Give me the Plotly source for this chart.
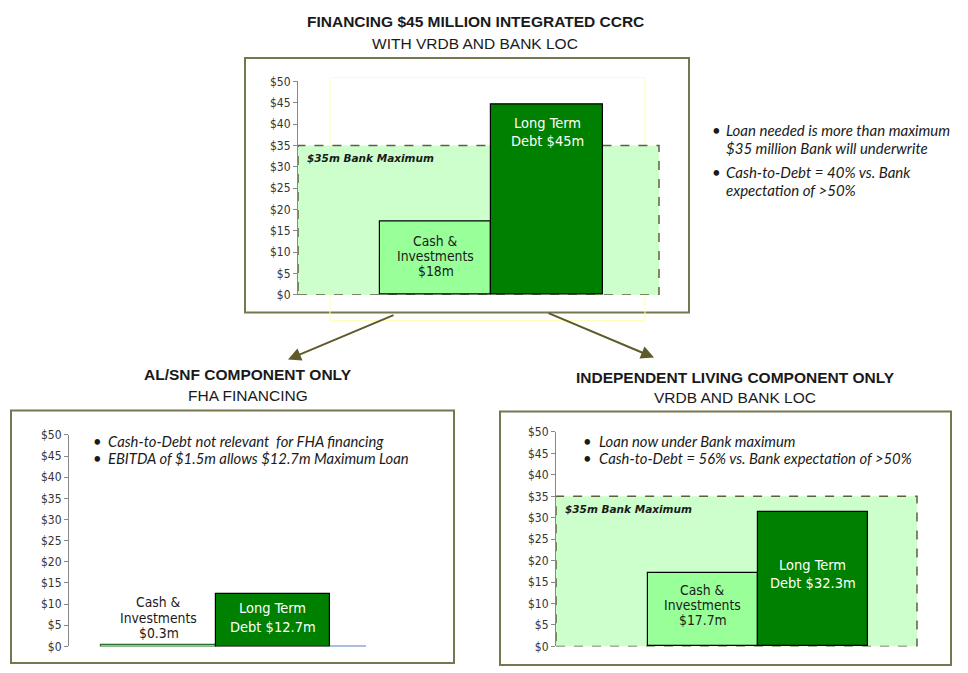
import plotly.graph_objects as go

# ---------------- data ----------------
categories = ["Cash & Investments", "Long Term Debt"]
ccrc_values = [17.2, 44.5]          # integrated CCRC ($m, as drawn)
alsnf_values = [0.3, 12.5]          # AL/SNF component ($m, as drawn)
il_values = [17.1, 31.3]            # IL component ($m, as drawn)
bank_maximum = 35
y_ticks = [0, 5, 10, 15, 20, 25, 30, 35, 40, 45, 50]
y_tick_text = ["$" + str(v) for v in y_ticks]

ccrc_labels = [["Cash &", "Investments", "$18m"], ["Long Term", "Debt $45m"]]
alsnf_labels = [["Cash &", "Investments", "$0.3m"], ["Long Term", "Debt $12.7m"]]
il_labels = [["Cash &", "Investments", "$17.7m"], ["Long Term", "Debt $32.3m"]]

bar_colors = ["#99ff99", "#008000"]
label_colors = ["#1a1a1a", "#ffffff"]

W = 968
H = 673
def px(x): return x / W
def py(y): return 1 - y / H

TICK_FONT = dict(family="DejaVu Sans Condensed, Liberation Sans, sans-serif", size=12, color="#333333")
BAR_FONT = "DejaVu Sans Condensed, Liberation Sans, sans-serif"
TITLE_FONT = "Liberation Sans, Arial, sans-serif"
NOTE_FONT = "Lato, Open Sans, sans-serif"
OLIVE = "#77774f"
DASH_COL = "#5f5f40"

fig = go.Figure()

panels = [
    ("x", "y", ccrc_values, ["#000000", "#000000"]),
    ("x2", "y2", alsnf_values, ["#2a6e2a", "#000000"]),
    ("x3", "y3", il_values, ["#000000", "#000000"]),
]
for xa, ya, vals, lc in panels:
    fig.add_trace(go.Bar(
        x=categories, y=vals, xaxis=xa, yaxis=ya, width=1,
        marker=dict(color=bar_colors, line=dict(color=lc, width=1.2)),
        hoverinfo="skip", showlegend=False,
    ))

yaxis_common = dict(range=[0, 50], tickmode="array", tickvals=y_ticks, ticktext=y_tick_text,
                    ticks="outside", ticklen=4, tickcolor="#888888", showline=True,
                    linecolor="#888888", linewidth=1, showgrid=False, zeroline=False,
                    tickfont=TICK_FONT, fixedrange=True)
xaxis_common = dict(visible=False, showgrid=False, zeroline=False, fixedrange=True)

fig.update_layout(
    width=W, height=H, margin=dict(l=0, r=0, t=0, b=0),
    paper_bgcolor="white", plot_bgcolor="rgba(0,0,0,0)", bargap=0,
    xaxis=dict(domain=[px(298), px(659)], range=[-1.233, 2.004], **xaxis_common),
    yaxis=dict(domain=[py(294), py(76)], anchor="x", **yaxis_common),
    xaxis2=dict(domain=[px(69), px(366)], range=[-0.785, 1.82], anchor="y2", **xaxis_common),
    yaxis2=dict(domain=[py(653), py(437)], anchor="x2", **yaxis_common),
    xaxis3=dict(domain=[px(556), px(917)], range=[-1.332, 1.95], anchor="y3", **xaxis_common),
    yaxis3=dict(domain=[py(653), py(434)], anchor="x3", **yaxis_common),
)

shapes = []
# outer frames
for (x0, y0, x1, y1) in [(245, 52, 689, 312), (11, 412, 454, 670), (500, 413, 951, 672)]:
    shapes.append(dict(type="rect", xref="paper", yref="paper", x0=px(x0), x1=px(x1),
                       y0=py(y1), y1=py(y0), line=dict(color=OLIVE, width=2), layer="below"))
# faint yellow frame in top panel
shapes.append(dict(type="rect", xref="paper", yref="paper", x0=px(330), x1=px(645),
                   y0=py(320), y1=py(72), line=dict(color="#ffffb0", width=1), layer="below"))
# bank maximum zones
for xa, ya in [("x", "y"), ("x3", "y3")]:
    shapes.append(dict(type="rect", xref=f"{xa} domain", yref=ya, x0=0, x1=1,
                       y0=0, y1=bank_maximum, fillcolor="#ccffcc",
                       line=dict(color=DASH_COL, width=1.5, dash="dash"), layer="below"))
# horizontal axis line remnant in AL/SNF panel
shapes.append(dict(type="line", xref="x2", yref="y2", x0=1.5, x1=1.82, y0=0, y1=0,
                   line=dict(color="#4f81bd", width=2)))
fig.update_layout(shapes=shapes)

ann = []
def text(x, y, s, size=14, bold=False, italic=False, color="#1a1a1a", family=TITLE_FONT,
         xanchor="center", yanchor="middle", align="center"):
    if bold:
        s = f"<b>{s}</b>"
    if italic:
        s = f"<i>{s}</i>"
    ann.append(dict(xref="paper", yref="paper", x=px(x), y=py(y), text=s, showarrow=False,
                    font=dict(family=family, size=size, color=color), borderpad=0,
                    xanchor=xanchor, yanchor=yanchor, align=align))

# titles
text(475, 15, "FINANCING $45 MILLION INTEGRATED CCRC", size=15.5, bold=True)
text(475, 37, "WITH VRDB AND BANK LOC", size=15.5)
text(248, 375, "AL/SNF COMPONENT ONLY", size=15.5, bold=True)
text(248, 397, "FHA FINANCING", size=15.5)
text(735, 378, "INDEPENDENT LIVING COMPONENT ONLY", size=15.5, bold=True)
text(735, 399, "VRDB AND BANK LOC", size=15.5)

# bullets (one annotation per line for exact line spacing)
def bullet(xb, xt, ys, lines, size=14.8):
    text(xb, ys[0], "•", size=size, family=NOTE_FONT)
    for yy, s in zip(ys, lines):
        text(xt, yy, s, size=size, italic=True, family=NOTE_FONT, xanchor="left", align="left")

bullet(716, 725, [125.5, 143.5], ["Loan needed is more than maximum", "$35 million Bank will underwrite"], 15)
bullet(716, 725, [168.5, 186.5], ["Cash-to-Debt = 40% vs. Bank", "expectation of >50%"], 15)
bullet(97, 107, [443], ["Cash-to-Debt not relevant  for FHA financing"])
bullet(97, 107, [461], ["EBITDA of $1.5m allows $12.7m Maximum Loan"])
bullet(587, 598, [443], ["Loan now under Bank maximum"])
bullet(587, 598, [461], ["Cash-to-Debt = 56% vs. Bank expectation of >50%"])

# bank maximum labels
for xa, ya in [("x", "y"), ("x3", "y3")]:
    ann.append(dict(xref=f"{xa} domain", yref=ya, x=0.02, y=bank_maximum, yshift=-5,
                    text=f"<b><i>${bank_maximum}m Bank Maximum</i></b>", showarrow=False,
                    font=dict(family="DejaVu Sans, sans-serif", size=10.5, color="#1a1a1a"),
                    xanchor="left", yanchor="top"))

# bar labels: each line placed at a pixel offset below an anchor value
def bar_label(xa, ya, cat, y, lines, color, size, first, spacing):
    for i, s in enumerate(lines):
        ann.append(dict(xref=xa, yref=ya, x=cat, y=y, text=s, showarrow=False,
                        yshift=-(first + i * spacing), borderpad=0,
                        font=dict(family=BAR_FONT, size=size, color=color),
                        xanchor="center", yanchor="middle", align="center"))

# CCRC
bar_label("x", "y", categories[0], ccrc_values[0] / 2, ccrc_labels[0], label_colors[0], 13.8, -17.5, 15)
bar_label("x", "y", categories[1], ccrc_values[1], ccrc_labels[1], label_colors[1], 14.5, 18, 18)
# AL/SNF
bar_label("x2", "y2", categories[0], 0, alsnf_labels[0], label_colors[0], 13.8, -44, 15.5)
bar_label("x2", "y2", categories[1], alsnf_values[1] / 2, alsnf_labels[1], label_colors[1], 14.5, -12, 19)
# IL
bar_label("x3", "y3", categories[0], il_values[0] / 2, il_labels[0], label_colors[0], 13.8, -19.5, 15)
bar_label("x3", "y3", categories[1], il_values[1] / 2, il_labels[1], label_colors[1], 14.5, -14.5, 18)

# arrows
for (x_tail, y_tail, x_head, y_head) in [(395, 315, 288, 360), (547, 313, 654, 358)]:
    ann.append(dict(xref="paper", yref="paper", x=px(x_head), y=py(y_head),
                    ax=x_tail - x_head, ay=y_tail - y_head, axref="pixel", ayref="pixel",
                    showarrow=True, arrowhead=2, arrowsize=1.3, arrowwidth=2,
                    arrowcolor="#5f5a2a", text=""))

fig.update_layout(annotations=ann)
fig.write_html("out.html")
